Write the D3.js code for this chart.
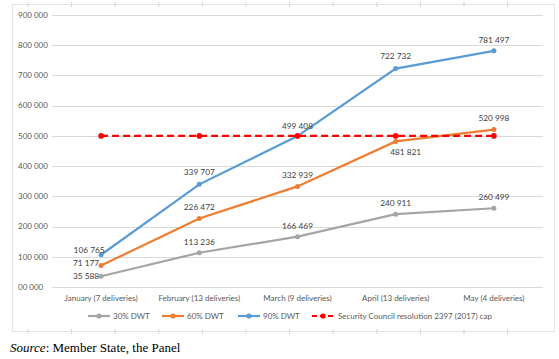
<!DOCTYPE html>
<html><head><meta charset="utf-8">
<script src="https://cdn.jsdelivr.net/npm/d3@7"></script>
<style>body{margin:0;background:#fff}svg{display:block}
.src{font-family:"Liberation Serif","Times New Roman",Times,serif;fill:#000}
</style>
</head><body>
<svg id="c" width="559" height="359"></svg>
<script>
const categories = ["January (7 deliveries)","February (13 deliveries)","March (9 deliveries)","April (13 deliveries)","May (4 deliveries)"];
const dwt30 = [35588,113236,166469,240911,260499];
const dwt60 = [71177,226472,332939,481821,520998];
const dwt90 = [106765,339707,499408,722732,781497];
const cap = [500000,500000,500000,500000,500000];
const yTicks = [0,100000,200000,300000,400000,500000,600000,700000,800000,900000];
const yTickLabels = ["00 000","100 000","200 000","300 000","400 000","500 000","600 000","700 000","800 000","900 000"];
const seriesNames = ["30% DWT","60% DWT","90% DWT","Security Council resolution 2397 (2017) cap"];

const svg = d3.select("#c");
const font = "Lato, 'Open Sans', sans-serif";
const txt = "#595959";
const fs = 8;

// frame
svg.append("rect").attr("x",12.5).attr("y",4.5).attr("width",542).attr("height",327)
  .attr("fill","none").attr("stroke","#e3e3e3");
const tickXs = d3.range(28, 540, 43.6);
svg.selectAll(".ft").data(tickXs).join("line")
  .attr("x1",d=>d).attr("x2",d=>d).attr("y1",2).attr("y2",7).attr("stroke","#d6d6d6");
svg.selectAll(".fb").data(tickXs).join("line")
  .attr("x1",d=>d).attr("x2",d=>d).attr("y1",329).attr("y2",334).attr("stroke","#d6d6d6");

const x = d3.scaleBand().domain(categories).range([52,543]);
const cx = c => x(c) + x.bandwidth()/2;
const y = d3.scaleLinear().domain([0,900000]).range([287,15]);

// gridlines
svg.append("g").selectAll("line").data(yTicks).join("line")
  .attr("x1",52).attr("x2",543).attr("y1",d=>Math.round(y(d))+0.5).attr("y2",d=>Math.round(y(d))+0.5)
  .attr("stroke","#d9d9d9").attr("stroke-width",1);

// y labels
svg.append("g").selectAll("text").data(yTicks).join("text")
  .attr("x",18).attr("y",d=>y(d)).attr("dy","0.35em")
  .attr("font-family",font).attr("font-size",fs).attr("fill",txt)
  .text((d,i)=>yTickLabels[i]);

// x labels
svg.append("g").selectAll("text").data(categories).join("text")
  .attr("x",d=>cx(d)).attr("y",298).attr("dy","0.35em").attr("text-anchor","middle")
  .attr("font-family",font).attr("font-size",fs).attr("fill",txt).text(d=>d);

const line = d3.line().x((d,i)=>cx(categories[i])).y(d=>y(d));
const series = [
  {vals:dwt30,color:"#A5A5A5",dash:null,r:2.5,labels:[[-2,0,"end"],[0,-11],[0,-11],[0,-11],[0,-11]]},
  {vals:dwt60,color:"#ED7D31",dash:null,r:2.5,labels:[[-2,-2.5,"end"],[0,-11],[0,-11],[10,11],[0,-11]]},
  {vals:dwt90,color:"#5B9BD5",dash:null,r:2.5,labels:[[-12,-5],[0,-12],[0,-10],[0,-12],[0,-11]]},
  {vals:cap,color:"#FF0000",dash:"7,4",r:2.8,labels:null}
];
const fmt = v => d3.format(",")(v).replace(/,/g," ");
series.forEach(s=>{
  svg.append("path").datum(s.vals).attr("d",line).attr("fill","none")
    .attr("stroke",s.color).attr("stroke-width",2.2).attr("stroke-dasharray",s.dash);
  svg.append("g").selectAll("circle").data(s.vals).join("circle")
    .attr("cx",(d,i)=>cx(categories[i])).attr("cy",d=>y(d)).attr("r",s.r).attr("fill",s.color);
});
series.forEach(s=>{
  if(!s.labels) return;
  svg.append("g").selectAll("text").data(s.vals).join("text")
    .attr("x",(d,i)=>cx(categories[i])+s.labels[i][0]).attr("y",(d,i)=>y(d)+s.labels[i][1])
    .attr("dy","0.35em").attr("text-anchor",(d,i)=>s.labels[i][2]||"middle")
    .attr("font-family",font).attr("font-size",fs+0.3).attr("fill","#404040").text(d=>fmt(d));
});

// legend
const legX = [88,162,238,312];
const lg = svg.append("g");
series.forEach((s,i)=>{
  const g = lg.append("g").attr("transform",`translate(${legX[i]},316)`);
  g.append("line").attr("x1",0).attr("x2",22).attr("y1",0).attr("y2",0)
    .attr("stroke",s.color).attr("stroke-width",2.2).attr("stroke-dasharray",s.dash?"5,3":null);
  g.append("circle").attr("cx",11).attr("cy",0).attr("r",2.6).attr("fill",s.color);
  g.append("text").attr("x",i===3?26:25).attr("y",0).attr("dy","0.35em")
    .attr("font-family",font).attr("font-size",fs).attr("fill",txt).text(seriesNames[i]);
});

// source
const src = svg.append("text").attr("class","src").attr("x",10).attr("y",352).style("font-size","13px");
src.append("tspan").attr("font-style","italic").text("Source");
src.append("tspan").text(": Member State, the Panel");
const w = src.node().getComputedTextLength();
if (w > 172) src.style("font-size", (13 * 168 / w) + "px");
</script>
</body></html>
